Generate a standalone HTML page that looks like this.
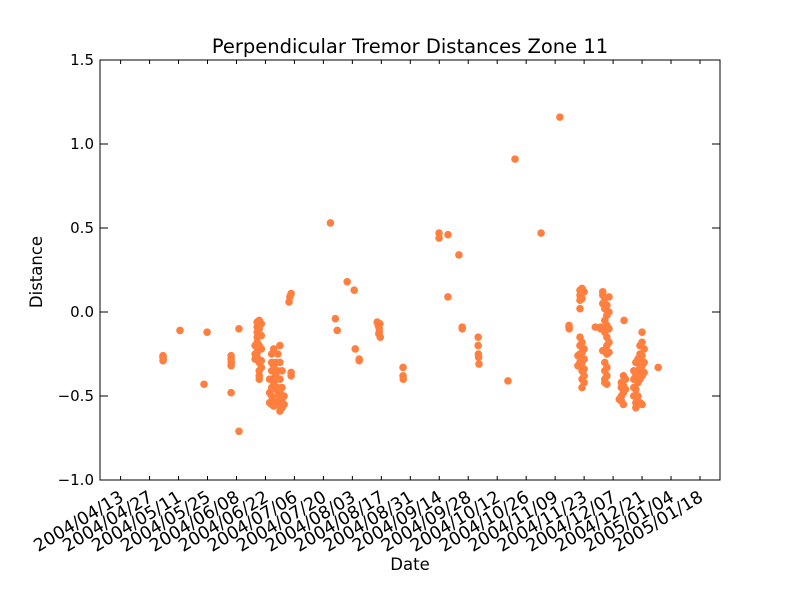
<!DOCTYPE html>
<html><head><meta charset="utf-8"><style>body{margin:0;background:#fff}svg{display:block;font-family:"DejaVu Sans","Liberation Sans",sans-serif}</style></head>
<body>
<svg id="chart" width="800" height="600" viewBox="0 0 800 600"></svg>
<script>
const tickLabels=["2004/04/13","2004/04/27","2004/05/11","2004/05/25","2004/06/08","2004/06/22","2004/07/06","2004/07/20","2004/08/03","2004/08/17","2004/08/31","2004/09/14","2004/09/28","2004/10/12","2004/10/26","2004/11/09","2004/11/23","2004/12/07","2004/12/21","2005/01/04","2005/01/18"];
const yTicks=[-1.0,-0.5,0.0,0.5,1.0,1.5];
// days since 2004/04/13
const days=[20.5,20.5,20.5,20.6,28.7,40.3,41.8,53.4,53.4,53.5,53.4,53.4,57.2,57.2,
65,65,65,66,66,66,66,66,66,66,66,67,67,67,67,67,67,67,68,68,68,68,68,
72,72,72,73,73,73,73,73,73,73,74,74,74,74,74,75,75,75,75,76,76,76,76,76,77,77,77,77,77,77,78,78,78,78,79,79,
81.4,81.8,82.4,82.4,82.4,
101.4,103.8,104.7,109.5,112.9,113.4,115.3,115.3,
124,124.5,125,125,125.5,125.3,124.8,
136.5,136.5,136.6,153.9,153.9,158.2,158.2,163.5,165.1,165.1,
172.8,172.8,172.9,173,173.2,187.2,190.6,203.2,212.3,
216.7,216.7,216.8,
221,221,222,222,222,222,222,222,222,222,223,223,223,223,223,223,223,223,224,224,224,224,224,224,
229.4,
232,232,233,233,233,233,233,234,234,234,234,234,234,234,234,235,235,235,235,235,235,235,235,235,236,236,236,236,236,
241,242,242,242,242,243,243,243,243,244,244,243.3,
248,248,248,248,249,249,249,249,249,250,250,250,250,251,251,251,251,251,252,252,252,252,252,252,253,253,253,
259.8];
const values=[-0.26,-0.27,-0.29,-0.28,-0.11,-0.43,-0.12,-0.26,-0.28,-0.30,-0.32,-0.48,-0.10,-0.71,
-0.2,-0.25,-0.28,-0.06,-0.09,-0.12,-0.15,-0.18,-0.21,-0.24,-0.27,-0.05,-0.1,-0.2,-0.3,-0.35,-0.38,-0.4,-0.07,-0.14,-0.22,-0.29,-0.33,
-0.4,-0.48,-0.54,-0.25,-0.3,-0.35,-0.4,-0.45,-0.5,-0.55,-0.22,-0.32,-0.42,-0.52,-0.56,-0.3,-0.38,-0.46,-0.54,-0.25,-0.35,-0.45,-0.5,-0.55,-0.2,-0.3,-0.4,-0.48,-0.56,-0.59,-0.35,-0.45,-0.52,-0.57,-0.5,-0.55,
0.06,0.09,0.11,-0.36,-0.38,
0.53,-0.04,-0.11,0.18,0.13,-0.22,-0.28,-0.29,
-0.06,-0.08,-0.1,-0.12,-0.15,-0.07,-0.13,
-0.33,-0.38,-0.40,0.47,0.44,0.46,0.09,0.34,-0.09,-0.10,
-0.15,-0.2,-0.25,-0.27,-0.31,-0.41,0.91,0.47,1.16,
-0.08,-0.09,-0.10,
-0.26,-0.32,0.13,0.1,0.07,0.02,-0.15,-0.2,-0.25,-0.3,0.14,0.08,-0.18,-0.24,-0.3,-0.35,-0.4,-0.45,0.12,-0.22,-0.28,-0.34,-0.38,-0.42,
-0.09,
-0.09,-0.1,0.12,0.1,0.05,-0.1,-0.23,0.08,0.02,-0.05,-0.12,-0.3,-0.35,-0.4,-0.42,0.04,-0.02,-0.08,-0.15,-0.2,-0.25,-0.33,-0.38,-0.43,0.09,0.0,-0.1,-0.18,-0.24,
-0.52,-0.42,-0.45,-0.5,-0.53,-0.38,-0.44,-0.48,-0.55,-0.4,-0.46,-0.05,
-0.35,-0.4,-0.45,-0.5,-0.3,-0.38,-0.46,-0.54,-0.57,-0.28,-0.35,-0.42,-0.5,-0.2,-0.25,-0.33,-0.4,-0.54,-0.12,-0.18,-0.26,-0.32,-0.38,-0.55,-0.22,-0.3,-0.36,
-0.33];
const L=100,R=720,T=60,B=480;
const x0=120.6,pxPerDay=28.97/14;
const xs=d=>x0+d*pxPerDay;
const ys=v=>B-(v+1.0)/2.5*(B-T);
const svg=document.getElementById('chart');
const NS='http://www.w3.org/2000/svg';
function mk(tag,attrs,parent){const e=document.createElementNS(NS,tag);for(const k in attrs)e.setAttribute(k,attrs[k]);(parent||svg).appendChild(e);return e;}
const pts=mk('g',{});


days.forEach((d,i)=>{const c=mk('circle',{cx:xs(d),cy:ys(values[i]),r:3.8,fill:'#ff7f3f'},pts);

});
const frame=mk('rect',{x:L,y:T,width:R-L,height:B-T,fill:'none',stroke:'#000','stroke-width':1});


tickLabels.forEach((t,i)=>{const x=xs(i*14);
mk('line',{x1:x,x2:x,y1:B,y2:B-4,stroke:'#000'});mk('line',{x1:x,x2:x,y1:T,y2:T+4,stroke:'#000'});
const tx=mk('text',{x:x-2,y:B+22,'font-size':17.5,'text-anchor':'end',transform:`rotate(-31 ${x-2} ${B+10})`});tx.textContent=t;

});
yTicks.forEach(v=>{const y=ys(v);
mk('line',{x1:L,x2:L+8,y1:y,y2:y,stroke:'#000'});mk('line',{x1:R,x2:R-8,y1:y,y2:y,stroke:'#000'});
const tx=mk('text',{x:L-6,y:y+5,'font-size':15,'text-anchor':'end'});tx.textContent=v.toFixed(1).replace('-','\u2212');

});
const title=mk('text',{x:410,y:53,'font-size':19.5,'text-anchor':'middle'});title.textContent='Perpendicular Tremor Distances Zone 11';


const xt=mk('text',{x:410,y:570,'font-size':16.5,'text-anchor':'middle'});xt.textContent='Date';


const yt=mk('text',{x:42,y:272,'font-size':16.5,'text-anchor':'middle',transform:'rotate(-90 42 272)'});yt.textContent='Distance';


</script>
</body></html>
